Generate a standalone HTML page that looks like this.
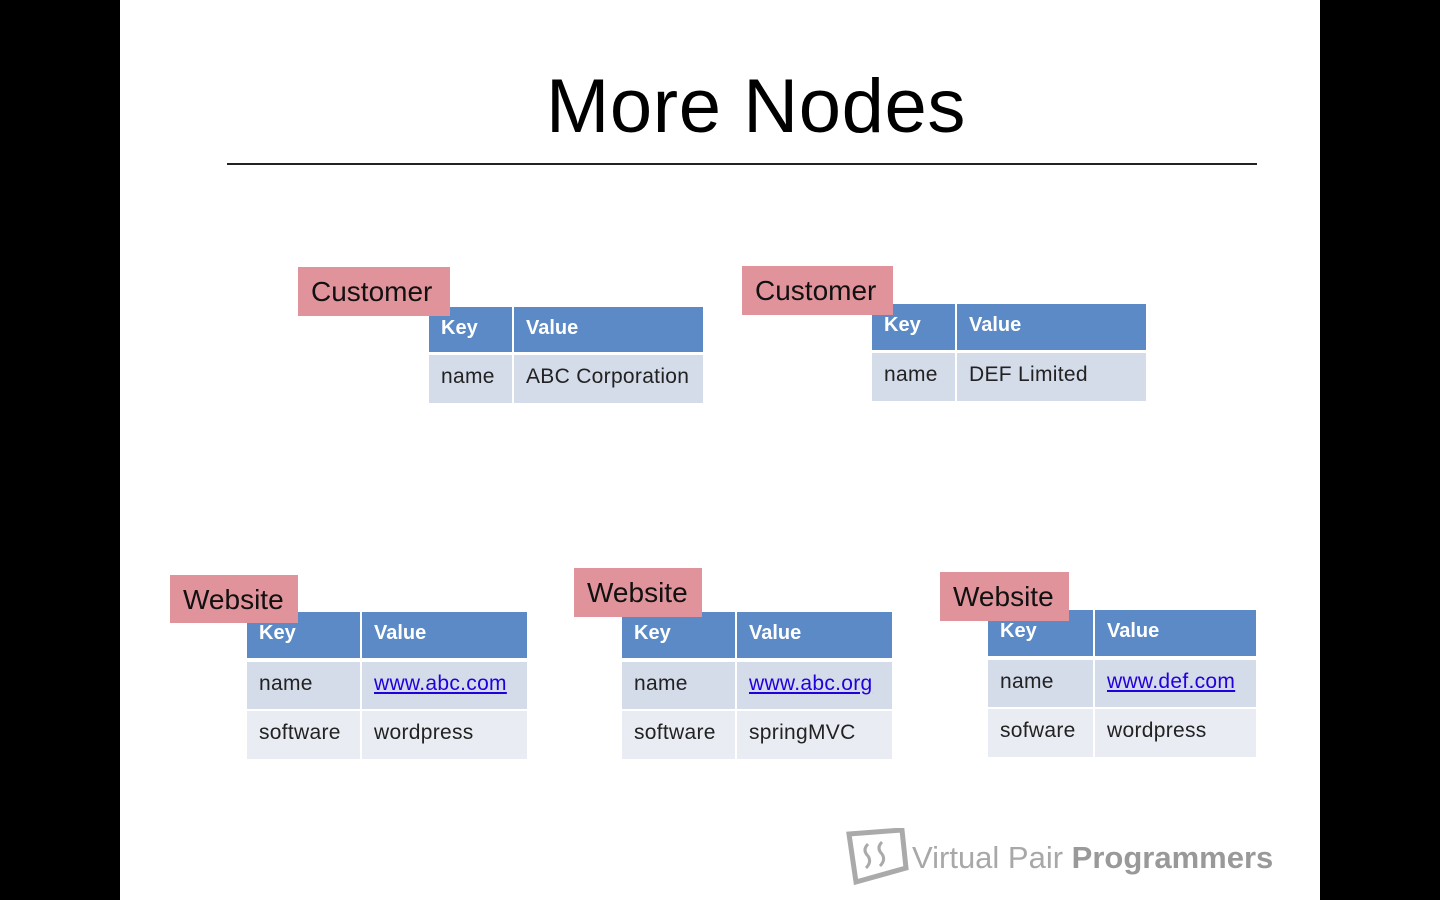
<!DOCTYPE html>
<html><head><meta charset="utf-8"><style>
body{margin:0;width:1440px;height:900px;background:#000;position:relative;overflow:hidden;font-family:"Liberation Sans",sans-serif}
.slide{position:absolute;left:120px;top:0;width:1200px;height:900px;background:#fff}
.a{position:absolute;box-sizing:border-box}
.title{position:absolute;left:0;width:1440px;top:62px;text-align:center;font-size:76px;color:#000;line-height:90px;padding-left:36px;letter-spacing:0.6px}
.rule{position:absolute;left:227px;top:163px;width:1030px;height:1.5px;background:#222}
.lbl{position:absolute;background:#e0939a;color:#111;font-size:28px;line-height:50px;padding-left:13px;box-sizing:border-box;z-index:2}
.h{position:absolute;background:#5b8ac6;color:#fff;font-weight:bold;font-size:20px;padding-left:12px;box-sizing:border-box;line-height:42px}
.r1{position:absolute;background:#d4dbe9;color:#222;font-size:21px;padding-left:12px;box-sizing:border-box;line-height:44px;letter-spacing:0.3px}
.r2{position:absolute;background:#e9ecf3;color:#222;font-size:21px;padding-left:12px;box-sizing:border-box;line-height:44px;letter-spacing:0.3px}
.lk{color:#2200dd;text-decoration:underline}
.logo{position:absolute;left:912px;top:838px;font-size:31px;color:#a8a8a8;line-height:40px}
</style></head><body>
<div class="slide"></div>
<div class="title">More Nodes</div>
<div class="rule"></div>

<div class="lbl" style="left:298px;top:267px;width:152px;height:49px">Customer</div>
<div class="h" style="left:429px;top:307px;width:83px;height:45px">Key</div>
<div class="h" style="left:514px;top:307px;width:189px;height:45px">Value</div>
<div class="r1" style="left:429px;top:355px;width:83px;height:48px">name</div>
<div class="r1" style="left:514px;top:355px;width:189px;height:48px">ABC Corporation</div>

<div class="lbl" style="left:742px;top:266px;width:151px;height:49px">Customer</div>
<div class="h" style="left:872px;top:304px;width:83px;height:46px">Key</div>
<div class="h" style="left:957px;top:304px;width:189px;height:46px">Value</div>
<div class="r1" style="left:872px;top:353px;width:83px;height:48px">name</div>
<div class="r1" style="left:957px;top:353px;width:189px;height:48px">DEF Limited</div>

<div class="lbl" style="left:170px;top:575px;width:128px;height:48px">Website</div>
<div class="h" style="left:247px;top:612px;width:113px;height:46px">Key</div>
<div class="h" style="left:362px;top:612px;width:165px;height:46px">Value</div>
<div class="r1" style="left:247px;top:662px;width:113px;height:47px">name</div>
<div class="r1" style="left:362px;top:662px;width:165px;height:47px"><span class="lk">www.abc.com</span></div>
<div class="r2" style="left:247px;top:711px;width:113px;height:48px">software</div>
<div class="r2" style="left:362px;top:711px;width:165px;height:48px">wordpress</div>

<div class="lbl" style="left:574px;top:568px;width:128px;height:49px">Website</div>
<div class="h" style="left:622px;top:612px;width:113px;height:46px">Key</div>
<div class="h" style="left:737px;top:612px;width:155px;height:46px">Value</div>
<div class="r1" style="left:622px;top:662px;width:113px;height:47px">name</div>
<div class="r1" style="left:737px;top:662px;width:155px;height:47px"><span class="lk">www.abc.org</span></div>
<div class="r2" style="left:622px;top:711px;width:113px;height:48px">software</div>
<div class="r2" style="left:737px;top:711px;width:155px;height:48px">springMVC</div>

<div class="lbl" style="left:940px;top:572px;width:129px;height:49px">Website</div>
<div class="h" style="left:988px;top:610px;width:105px;height:46px">Key</div>
<div class="h" style="left:1095px;top:610px;width:161px;height:46px">Value</div>
<div class="r1" style="left:988px;top:660px;width:105px;height:47px">name</div>
<div class="r1" style="left:1095px;top:660px;width:161px;height:47px"><span class="lk">www.def.com</span></div>
<div class="r2" style="left:988px;top:709px;width:105px;height:48px">sofware</div>
<div class="r2" style="left:1095px;top:709px;width:161px;height:48px">wordpress</div>

<svg class="a" style="left:846px;top:828px" width="66" height="58" viewBox="0 0 66 58">
<polygon points="3,6 56,2 60,40 10,54" fill="none" stroke="#aaa" stroke-width="5"/>
<path d="M22,16 q-6,6 0,12 q4,6 -2,12 M36,14 q-6,6 0,12 q4,6 -2,12" fill="none" stroke="#aaa" stroke-width="3"/>
</svg>
<div class="logo">Virtual Pair <b style="color:#999">Programmers</b></div>
</body></html>
